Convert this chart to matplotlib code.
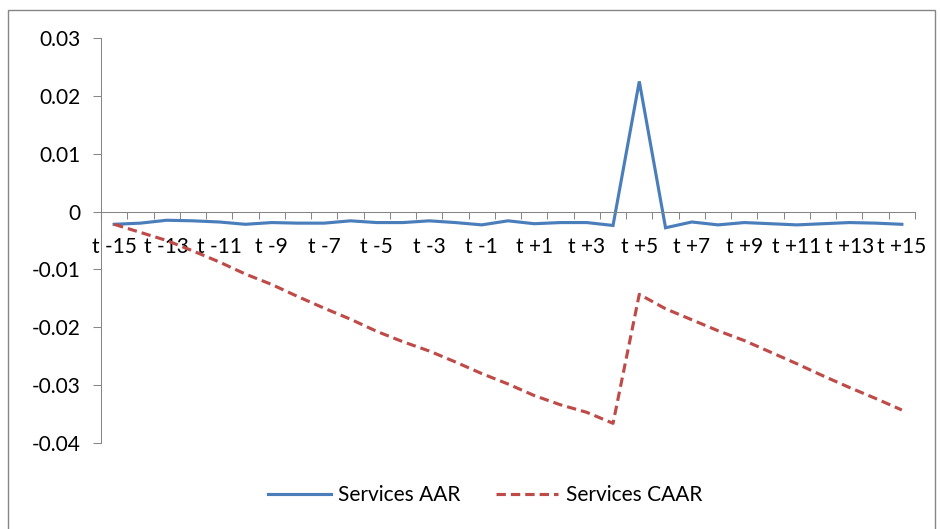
import matplotlib.pyplot as plt
import numpy as np
from matplotlib.patches import Rectangle

# event window t-15 .. t+15
days = list(range(-15, 16))
day_labels = ["t %+d" % d if d != 0 else "t 0" for d in days]
day_labels = [s.replace("+-", "-") for s in day_labels]

aar = [-0.0022, -0.0020, -0.0015, -0.0016, -0.0018, -0.0022, -0.0019, -0.0020,
       -0.0020, -0.0016, -0.0019, -0.0019, -0.0016, -0.0019, -0.0023, -0.0016,
       -0.0021, -0.0019, -0.0019, -0.0024, 0.0225, -0.0028, -0.0018, -0.0023,
       -0.0019, -0.0021, -0.0023, -0.0021, -0.0019, -0.0020, -0.0022]

caar = [-0.0022, -0.0036, -0.0050, -0.0068, -0.0087, -0.0108, -0.0126, -0.0147,
        -0.0167, -0.0186, -0.0207, -0.0225, -0.0241, -0.0260, -0.0280, -0.0298,
        -0.0318, -0.0334, -0.0347, -0.0366, -0.0143, -0.0168, -0.0187, -0.0206,
        -0.0223, -0.0243, -0.0263, -0.0284, -0.0304, -0.0323, -0.0343]

AXIS_GREY = "#868686"
BLUE = "#4A7EBB"
RED = "#BE4B48"
FS = 15

plt.rcParams['font.family'] = ['Lato', 'DejaVu Sans']

fig = plt.figure(figsize=(9.4, 5.29), dpi=100)
ax = fig.add_axes([101/940, 1 - 443/529, 814/940, 405/529])

x = np.arange(len(days))
ax.plot(x, aar, color=BLUE, lw=2.25, label="Services AAR", solid_joinstyle="miter")
ax.plot(x, caar, color=RED, lw=2.25, linestyle=(0, (3, 1.6)),
        dash_capstyle="butt", label="Services CAAR")

ax.set_xlim(-0.5, len(days) - 0.5)
ax.set_ylim(-0.04, 0.03)

# y axis
ax.set_yticks(np.arange(-0.04, 0.031, 0.01))
ax.set_yticklabels(["-0.04", "-0.03", "-0.02", "-0.01", "0", "0.01", "0.02", "0.03"])
ax.tick_params(axis="y", length=6, width=0.75, color=AXIS_GREY, pad=9,
               labelsize=FS, labelcolor="black")

# category axis sitting on y = 0
ax.spines["bottom"].set_position(("data", 0))
ax.set_xticks(x[::2])
ax.set_xticklabels(day_labels[::2])
ax.set_xticks(np.arange(-0.5, len(days)), minor=True)
ax.tick_params(axis="x", which="major", length=0, pad=18, labelsize=FS,
               labelcolor="black")
ax.tick_params(axis="x", which="minor", length=5, width=0.75, color=AXIS_GREY,
               direction="out")

for side in ["top", "right"]:
    ax.spines[side].set_visible(False)
for side in ["left", "bottom"]:
    ax.spines[side].set_color(AXIS_GREY)
    ax.spines[side].set_linewidth(0.75)

fig.legend(loc="center", bbox_to_anchor=(485/940, 1 - 495/529), ncol=2,
           frameon=False, fontsize=FS, handlelength=3.0, handletextpad=0.35,
           columnspacing=1.7)

# chart border
fig.patches.append(Rectangle((8/940, -0.05), 927/940, 1.05 - 10/529,
                             transform=fig.transFigure, fill=False,
                             edgecolor=AXIS_GREY, lw=1.0))

fig.savefig("out.png", dpi=100)
